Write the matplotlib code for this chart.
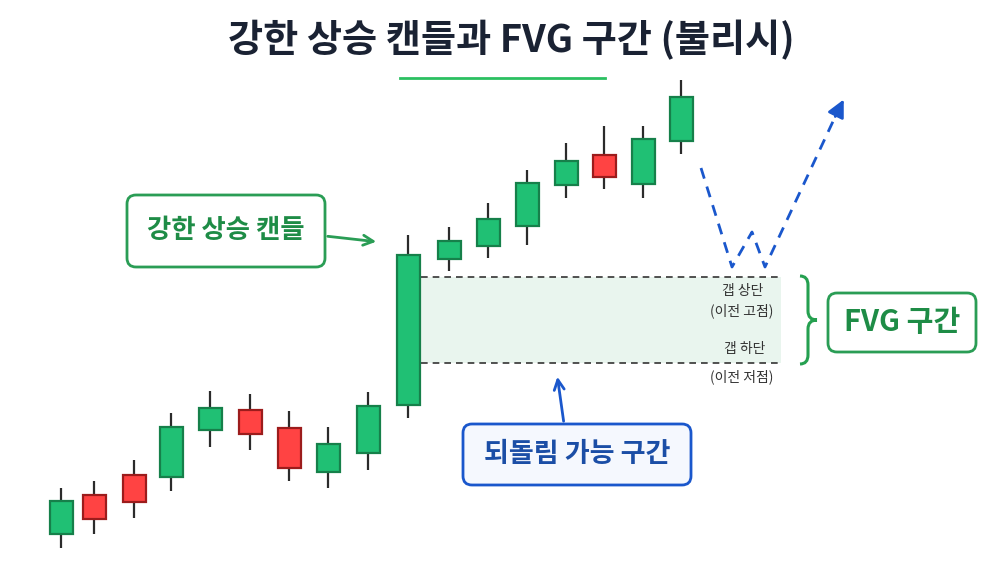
import matplotlib.pyplot as plt
import numpy as np
from matplotlib.patches import Rectangle, FancyBboxPatch, PathPatch
from matplotlib.path import Path

plt.rcParams['font.family'] = ['Noto Sans CJK KR', 'DejaVu Sans']

# 캔들 데이터 (가격 단위는 임의)
xs = [61, 94, 134, 171, 210, 250, 289, 328, 368, 408, 449, 488, 527, 566, 604, 643, 681]
opens = [41, 80, 100, 98, 145, 165, 147, 103, 122, 170, 316, 329, 349, 390, 420, 391, 434]
closes = [74, 56, 73, 148, 167, 141, 107, 131, 169, 320, 334, 356, 392, 414, 398, 436, 478]
highs = [87, 94, 115, 162, 184, 181, 164, 148, 183, 340, 348, 372, 405, 432, 449, 449, 495]
lows = [27, 41, 57, 84, 128, 125, 94, 87, 105, 157, 304, 317, 330, 377, 386, 377, 421]

gap_top = 298
gap_bottom = 212
gap_x = (421, 781)

# 되돌림 예상 경로
path_x = [701, 732, 752, 765, 845]
path_y = [407, 308, 343, 308, 478]

GREEN = '#20c074'
GREEN_EDGE = '#16804a'
RED = '#ff4343'
RED_EDGE = '#9c1c1c'
LABEL_GREEN = '#1e8c46'
BLUE = '#1a57cc'

fig = plt.figure(figsize=(10.01, 5.75), dpi=100)
ax = fig.add_axes([0, 0, 1, 1])
ax.set_xlim(0, 1001)
ax.set_ylim(0, 575)
ax.axis('off')

# FVG 영역
ax.add_patch(Rectangle((gap_x[0], gap_bottom), gap_x[1] - gap_x[0], gap_top - gap_bottom,
                       facecolor='#e9f5ee', edgecolor='none', zorder=1))
ax.hlines([gap_top, gap_bottom], gap_x[0], gap_x[1], colors='#333333',
          linestyles=(0, (4, 3)), lw=1.2, zorder=2)

# 캔들
w = 23
for x, o, c, h, l in zip(xs, opens, closes, highs, lows):
    up = c >= o
    ax.vlines(x, l, h, color='#2b2b2b', lw=1.6, zorder=3)
    ax.add_patch(Rectangle((x - w / 2, min(o, c)), w, abs(c - o),
                           facecolor=GREEN if up else RED,
                           edgecolor=GREEN_EDGE if up else RED_EDGE, lw=1.6, zorder=4))

# 제목
ax.text(511, 535, '강한 상승 캔들과 FVG 구간 (불리시)', ha='center', va='center',
        fontsize=27.5, fontweight='bold', color='#1a2233')
ax.plot([400, 605], [497, 497], color='#2bc061', lw=2)

# 갭 라벨
lab = dict(ha='center', va='center', fontsize=10, color='#333333')
ax.text(743, 284, '갭 상단', **lab)
ax.text(742, 264, '(이전 고점)', **lab)
ax.text(745, 226, '갭 하단', **lab)
ax.text(742, 198, '(이전 저점)', **lab)

# 중괄호
bx, top, bot, mid = 800, gap_top + 1, gap_bottom - 1, (gap_top + gap_bottom) / 2
verts = [(bx, top), (bx + 8, top), (bx + 8, top - 9), (bx + 8, mid + 9),
         (bx + 8, mid), (bx + 17, mid), (bx + 17, mid),
         (bx + 8, mid), (bx + 8, mid - 9), (bx + 8, bot + 9),
         (bx + 8, bot), (bx, bot)]
codes = [Path.MOVETO, Path.CURVE3, Path.CURVE3, Path.LINETO,
         Path.CURVE3, Path.CURVE3, Path.MOVETO,
         Path.CURVE3, Path.CURVE3, Path.LINETO,
         Path.CURVE3, Path.CURVE3]
ax.add_patch(PathPatch(Path(verts, codes), facecolor='none', edgecolor='#25a050', lw=2.2))

# 라벨 박스
def label_box(x0, y0, x1, y1, text, edge, face, tcolor, size):
    ax.add_patch(FancyBboxPatch((x0, y0), x1 - x0, y1 - y0,
                                boxstyle='round,pad=0,rounding_size=9',
                                facecolor=face, edgecolor=edge, lw=2, zorder=5))
    ax.text((x0 + x1) / 2, (y0 + y1) / 2, text, ha='center', va='center',
            fontsize=size, fontweight='bold', color=tcolor, zorder=6)

label_box(127, 308, 325, 380, '강한 상승 캔들', '#2a9d55', 'white', LABEL_GREEN, 19)
label_box(828, 223, 976, 282, 'FVG 구간', '#2a9d55', 'white', LABEL_GREEN, 21)
label_box(463, 90, 691, 151, '되돌림 가능 구간', BLUE, '#f5f8fe', '#1b4ea6', 19.5)

# 화살표
ax.annotate('', xy=(379, 333), xytext=(325, 339),
            arrowprops=dict(arrowstyle='->', color='#2a9d55', lw=2, mutation_scale=18))
ax.annotate('', xy=(557, 201), xytext=(564, 151),
            arrowprops=dict(arrowstyle='->', color=BLUE, lw=2, mutation_scale=18))

# 점선 경로
ax.plot(path_x[:-1] + [836], path_y[:-1] + [460], color=BLUE, lw=2,
        linestyle=(0, (4, 3)))
ax.annotate('', xy=(path_x[-1], path_y[-1]), xytext=(834, 456),
            arrowprops=dict(arrowstyle='-|>', color=BLUE, lw=2, mutation_scale=26))

fig.savefig('out.png', dpi=100, facecolor='white')
